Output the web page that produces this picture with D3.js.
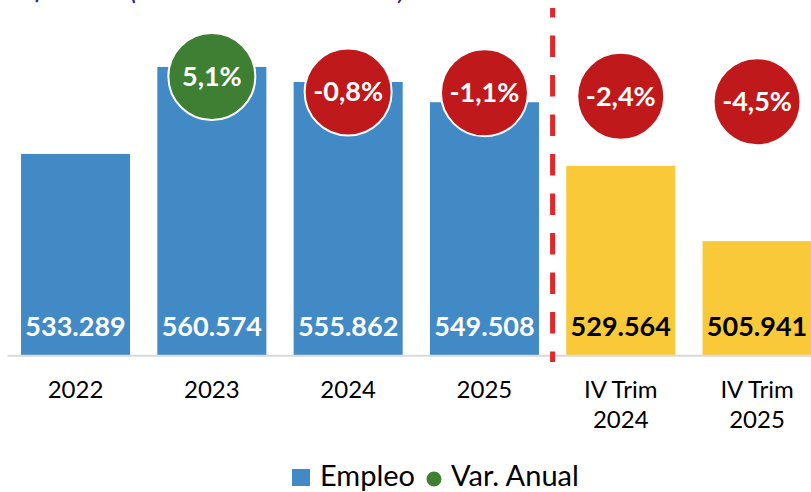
<!DOCTYPE html>
<html>
<head>
<meta charset="utf-8">
<script src="https://cdn.jsdelivr.net/npm/d3@7"></script>
<style>
  html, body { margin: 0; padding: 0; background: #fff; }
  svg { display: block; font-family: Lato, "Open Sans", sans-serif; }
</style>
</head>
<body>
<svg id="chart" width="811" height="492"></svg>
<script>
// Categories: four annual averages followed by two fourth-quarter figures
const categories = ["2022", "2023", "2024", "2025", "IV Trim 2024", "IV Trim 2025"];
const categoryLines = [["2022"], ["2023"], ["2024"], ["2025"], ["IV Trim", "2024"], ["IV Trim", "2025"]];
// Employment level (persons)
const empleo = [533289, 560574, 555862, 549508, 529564, 505941];
// Annual variation (%) — none for the first year
const varAnual = [null, 5.1, -0.8, -1.1, -2.4, -4.5];
// Bar groups: annual vs. quarterly
const grupo = ["anual", "anual", "anual", "anual", "trim", "trim"];

const title = "Afiliados (media anual del total)";

const W = 811, H = 492;
const svg = d3.select("#chart");

const colors = {
  anual: "#418ac6",
  trim: "#f9c93a",
  up: "#3f7f33",
  down: "#c0191b",
  divider: "#e3262a",
  axis: "#d9d9d9",
  title: "#2b2a7c"
};

const x = d3.scaleBand()
  .domain(categories)
  .range([7.4, 825.2])
  .paddingInner(0.2)
  .paddingOuter(0.1);

const baseY = 355.7;
const y = d3.scaleLinear().domain([470000, 580000]).range([baseY, baseY - 110000 * 0.003188]);
// Secondary axis for the variation bubbles
const y2 = d3.scaleLinear().domain([-10, 20]).range([76.5 + 15.1 * 2.635, 76.5 - 14.9 * 2.635]);

const fmt = v => d3.format(",")(v).replace(/,/g, ".");
const fmtPct = v => (v < 0 ? "-" : "") + d3.format(".1f")(Math.abs(v)).replace(".", ",") + "%";

// Title (runs above the top edge of the plot area)
svg.append("text")
  .attr("x", 16).attr("y", -1)
  .attr("font-size", 30).attr("font-style", "italic")
  .attr("fill", colors.title)
  .text(title);

// Bars
svg.append("g").selectAll("rect")
  .data(categories)
  .join("rect")
  .attr("x", d => x(d))
  .attr("width", x.bandwidth())
  .attr("y", (d, i) => y(empleo[i]))
  .attr("height", (d, i) => baseY - y(empleo[i]))
  .attr("fill", (d, i) => colors[grupo[i]]);

// Baseline
svg.append("line")
  .attr("x1", 7.5).attr("x2", W)
  .attr("y1", baseY).attr("y2", baseY)
  .attr("stroke", colors.axis).attr("stroke-width", 2);

// Divider between annual and quarterly data
const divX = (x(categories[3]) + x.bandwidth() + x(categories[4])) / 2;
svg.append("line")
  .attr("x1", divX).attr("x2", divX)
  .attr("y1", 8).attr("y2", 362)
  .attr("stroke", colors.divider).attr("stroke-width", 5)
  .attr("stroke-dasharray", "21.5,18")
  .attr("stroke-dashoffset", 12);

// Value labels inside the bars
svg.append("g").selectAll("text")
  .data(categories)
  .join("text")
  .attr("x", d => x(d) + x.bandwidth() / 2)
  .attr("y", 336)
  .attr("text-anchor", "middle")
  .attr("font-size", 27).attr("font-weight", 700)
  .attr("fill", (d, i) => grupo[i] === "anual" ? "#ffffff" : "#000000")
  .text((d, i) => fmt(empleo[i]));

// Category axis labels
const cat = svg.append("g").selectAll("text")
  .data(categories)
  .join("text")
  .attr("x", d => x(d) + x.bandwidth() / 2)
  .attr("y", 398)
  .attr("text-anchor", "middle")
  .attr("font-size", 24)
  .attr("fill", "#000");
cat.each(function(d, i) {
  const t = d3.select(this);
  categoryLines[i].forEach((line, k) => {
    t.append("tspan")
      .attr("x", x(d) + x.bandwidth() / 2)
      .attr("y", 398 + k * 30)
      .text(line);
  });
});

// Variation bubbles
const bubbles = svg.append("g").selectAll("g")
  .data(categories.map((c, i) => ({ c, v: varAnual[i] })).filter(d => d.v !== null))
  .join("g")
  .attr("transform", d => `translate(${x(d.c) + x.bandwidth() / 2},${y2(d.v)})`);
bubbles.append("circle")
  .attr("r", 43.5)
  .attr("fill", d => d.v >= 0 ? colors.up : colors.down)
  .attr("stroke", "#fff").attr("stroke-width", 2);
bubbles.append("text")
  .attr("text-anchor", "middle")
  .attr("dy", "0.35em")
  .attr("font-size", 27).attr("font-weight", 700)
  .attr("fill", "#fff")
  .text(d => fmtPct(d.v));

// Legend
const legend = svg.append("g");
legend.append("rect")
  .attr("x", 292).attr("y", 469).attr("width", 18).attr("height", 17)
  .attr("fill", colors.anual);
legend.append("text")
  .attr("x", 320).attr("y", 486)
  .attr("font-size", 29).attr("fill", "#000")
  .text("Empleo");
legend.append("circle")
  .attr("cx", 434).attr("cy", 479).attr("r", 7.5)
  .attr("fill", colors.up);
legend.append("text")
  .attr("x", 451).attr("y", 486)
  .attr("font-size", 29).attr("fill", "#000")
  .text("Var. Anual");
</script>
</body>
</html>
